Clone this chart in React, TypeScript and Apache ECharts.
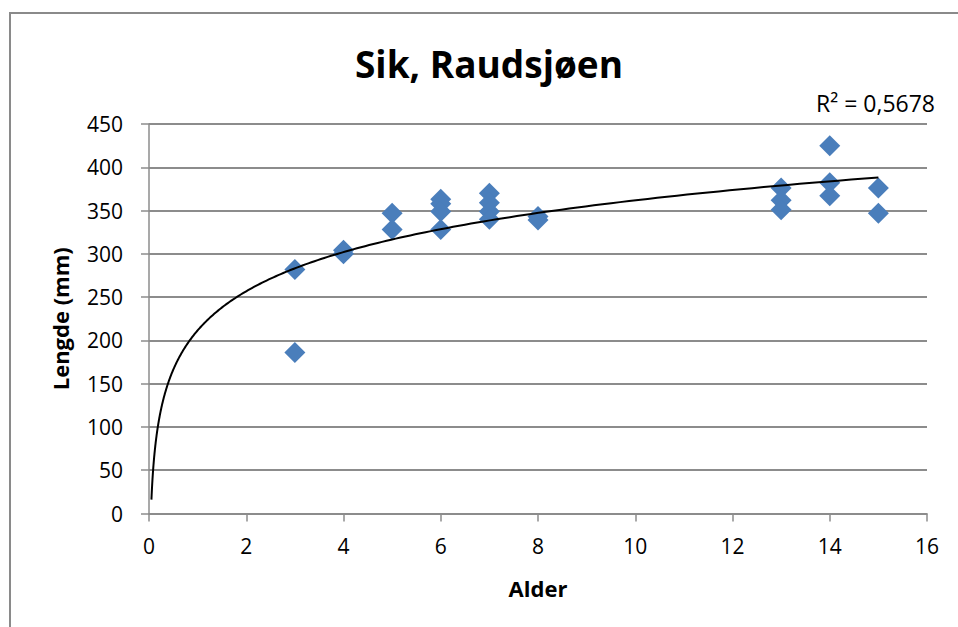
import React, { useEffect, useRef } from "react";
import * as echarts from "echarts";

// Alder (years) and Lengde (mm) for each fish
const alder: number[] = [
  3, 3,
  4, 4,
  5, 5,
  6, 6, 6, 6,
  7, 7, 7, 7,
  8, 8,
  13, 13, 13,
  14, 14, 14,
  15, 15,
];
const lengde: number[] = [
  282, 186,
  304, 300,
  347, 328,
  363, 358, 349, 328,
  370, 359, 349, 340,
  343, 339,
  376, 362, 351,
  425, 382, 367,
  376, 347,
];

const xTicks = { min: 0, max: 16, interval: 2 };
const yTicks = { min: 0, max: 450, interval: 50 };
const titleText = "Sik, Raudsjøen";
const xName = "Alder";
const yName = "Lengde (mm)";
const r2Label = "R² = 0,5678";

// trendline range (backward forecast towards 0)
const TREND_FROM = 0.05;
const TREND_TO = 15;

const FONT = "'Open Sans', 'Liberation Sans', sans-serif";

// least-squares fit of y = a*ln(x) + b
function logFit(xs: number[], ys: number[]) {
  const n = xs.length;
  const lx = xs.map((v) => Math.log(v));
  const mx = lx.reduce((s, v) => s + v, 0) / n;
  const my = ys.reduce((s, v) => s + v, 0) / n;
  let sxx = 0;
  let sxy = 0;
  for (let i = 0; i < n; i++) {
    sxx += (lx[i] - mx) * (lx[i] - mx);
    sxy += (lx[i] - mx) * (ys[i] - my);
  }
  const a = sxy / sxx;
  return { a, b: my - a * mx };
}

export default function App() {
  const ref = useRef<HTMLDivElement>(null);

  useEffect(() => {
    if (!ref.current) return;
    const chart = echarts.init(ref.current, undefined, { renderer: "svg" });

    const { a, b } = logFit(alder, lengde);
    const trend: [number, number][] = [];
    const steps = 300;
    for (let i = 0; i <= steps; i++) {
      // denser sampling near zero where the curve is steep
      const t = i / steps;
      const x = TREND_FROM * Math.pow(TREND_TO / TREND_FROM, t);
      trend.push([x, a * Math.log(x) + b]);
    }

    const points = alder.map((x, i) => [x, lengde[i]]);

    chart.setOption({
      animation: false,
      backgroundColor: "#ffffff",
      textStyle: { fontFamily: FONT },
      grid: { left: 149, right: 31, top: 124, bottom: 113.5 },
      xAxis: {
        type: "value",
        ...xTicks,
        name: xName,
        nameLocation: "middle",
        nameGap: 63,
        nameTextStyle: { fontSize: 22, fontWeight: "bold", color: "#000", fontFamily: FONT },
        axisLine: { show: true, lineStyle: { color: "#8c8c8c", width: 1.5 } },
        axisTick: { show: true, length: 8, lineStyle: { color: "#8c8c8c", width: 1.5 } },
        axisLabel: { fontSize: 21, color: "#000", margin: 22, fontFamily: FONT },
        splitLine: { show: false },
      },
      yAxis: {
        type: "value",
        ...yTicks,
        name: yName,
        nameLocation: "middle",
        nameGap: 78,
        nameRotate: 90,
        nameTextStyle: { fontSize: 22, fontWeight: "bold", color: "#000", fontFamily: FONT },
        axisLine: { show: true, lineStyle: { color: "#8c8c8c", width: 1.5 } },
        axisTick: { show: true, length: 8, lineStyle: { color: "#8c8c8c", width: 1.5 } },
        axisLabel: { fontSize: 21, color: "#000", margin: 26, fontFamily: FONT },
        splitLine: { show: true, lineStyle: { color: "#8c8c8c", width: 2 } },
      },
      series: [
        {
          type: "scatter",
          data: points,
          symbol: "diamond",
          symbolSize: 21,
          itemStyle: { color: "#4a7ebb", opacity: 1 },
          z: 2,
        },
        {
          type: "line",
          data: trend,
          showSymbol: false,
          symbol: "none",
          lineStyle: { color: "#000", width: 2 },
          z: 3,
          clip: true,
        },
      ],
      graphic: [
        {
          type: "rect",
          shape: { x: 10, y: 13, width: 1000, height: 700 },
          style: { fill: "none", stroke: "#8a8a8a", lineWidth: 2 },
          silent: true,
          z: -1,
        },
        {
          type: "text",
          x: 489,
          y: 63,
          style: {
            text: titleText,
            fontSize: 37,
            fontWeight: "bold",
            fontFamily: FONT,
            fill: "#000",
            align: "center",
            verticalAlign: "middle",
          },
        },
        {
          type: "text",
          x: 935,
          y: 103,
          style: {
            text: r2Label,
            fontSize: 23,
            fontFamily: FONT,
            fill: "#000",
            align: "right",
            verticalAlign: "middle",
          },
        },
      ],
    });

    return () => chart.dispose();
  }, []);

  return (
    <div
      ref={ref}
      style={{ position: "fixed", left: 0, top: 0, width: 958, height: 627 }}
    />
  );
}
